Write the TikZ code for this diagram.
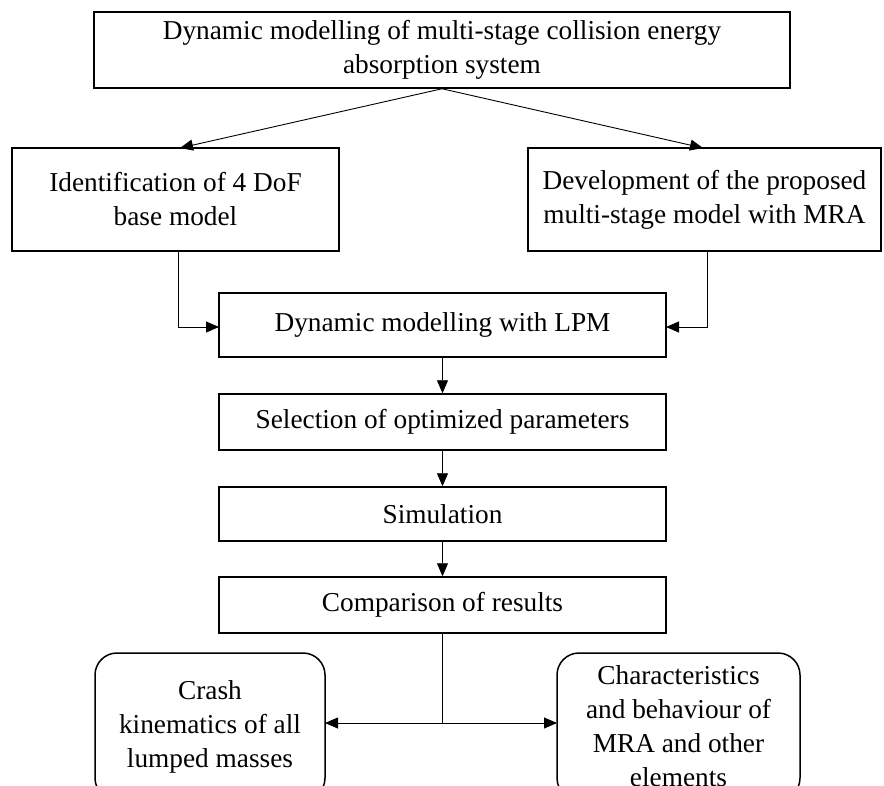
\documentclass[tikz,border=0pt]{standalone}
\usepackage{fontspec}
\setmainfont{Liberation Serif}
\usetikzlibrary{arrows.meta}
\begin{document}
\begin{tikzpicture}[x=1pt,y=-1pt,
  box/.style={draw,line width=1.5pt,inner sep=0pt,align=center,font=\fontsize{27.3}{34}\selectfont},
  rbox/.style={box,rounded corners=22pt},
  arr/.style={line width=0.9pt,-{Triangle[length=13pt,width=11pt]}},
  ln/.style={line width=0.9pt}]
\useasboundingbox (0,0) rectangle (884,785);
\clip (0,0) rectangle (884,785);
\node[box,minimum width=696pt,minimum height=76pt] (top) at (442,50)
  {Dynamic modelling of multi-stage collision energy\\absorption system};
\node[box,minimum width=327pt,minimum height=103pt] (left) at (175.5,199.5)
  {Identification of 4 DoF\\base model};
\node[box,minimum width=353pt,minimum height=103pt] (right) at (704.5,199.5)
  {Development of the proposed\\multi-stage model with MRA};
\node[box,minimum width=447pt,minimum height=64pt] (lpm) at (442.5,325)
  {Dynamic modelling with LPM};
\node[box,minimum width=447pt,minimum height=56pt] (sel) at (442.5,422)
  {Selection of optimized parameters};
\node[box,minimum width=447pt,minimum height=54pt] (sim) at (442.5,514)
  {Simulation};
\node[box,minimum width=447pt,minimum height=56pt] (cmp) at (442.5,605)
  {Comparison of results};
\node[rbox,minimum width=230pt,minimum height=147pt] (crash) at (210,726.5)
  {Crash\\kinematics of all\\lumped masses};
\node[rbox,minimum width=243pt,minimum height=147pt] (char) at (678.5,726.5)
  {Characteristics\\and behaviour of\\MRA and other\\elements};
\coordinate (lt) at (180,148);
\coordinate (rt) at (703,148);
\coordinate (lb) at (178,251);
\coordinate (rb) at (707,251);
\coordinate (lj) at (178,327);
\coordinate (rj) at (707,327);
\coordinate (lpl) at (219,327);
\coordinate (lpr) at (666,327);
\coordinate (cj) at (442.5,723);
\coordinate (ca) at (325,723);
\coordinate (cb) at (557,723);
\draw[arr] (top.south) -- (lt);
\draw[arr] (top.south) -- (rt);
\draw[arr] (lb) -- (lj) -- (lpl);
\draw[arr] (rb) -- (rj) -- (lpr);
\draw[arr] (lpm.south) -- (sel.north);
\draw[arr] (sel.south) -- (sim.north);
\draw[arr] (sim.south) -- (cmp.north);
\draw[ln] (cmp.south) -- (cj);
\draw[arr] (cj) -- (ca);
\draw[arr] (cj) -- (cb);
\end{tikzpicture}
\end{document}
